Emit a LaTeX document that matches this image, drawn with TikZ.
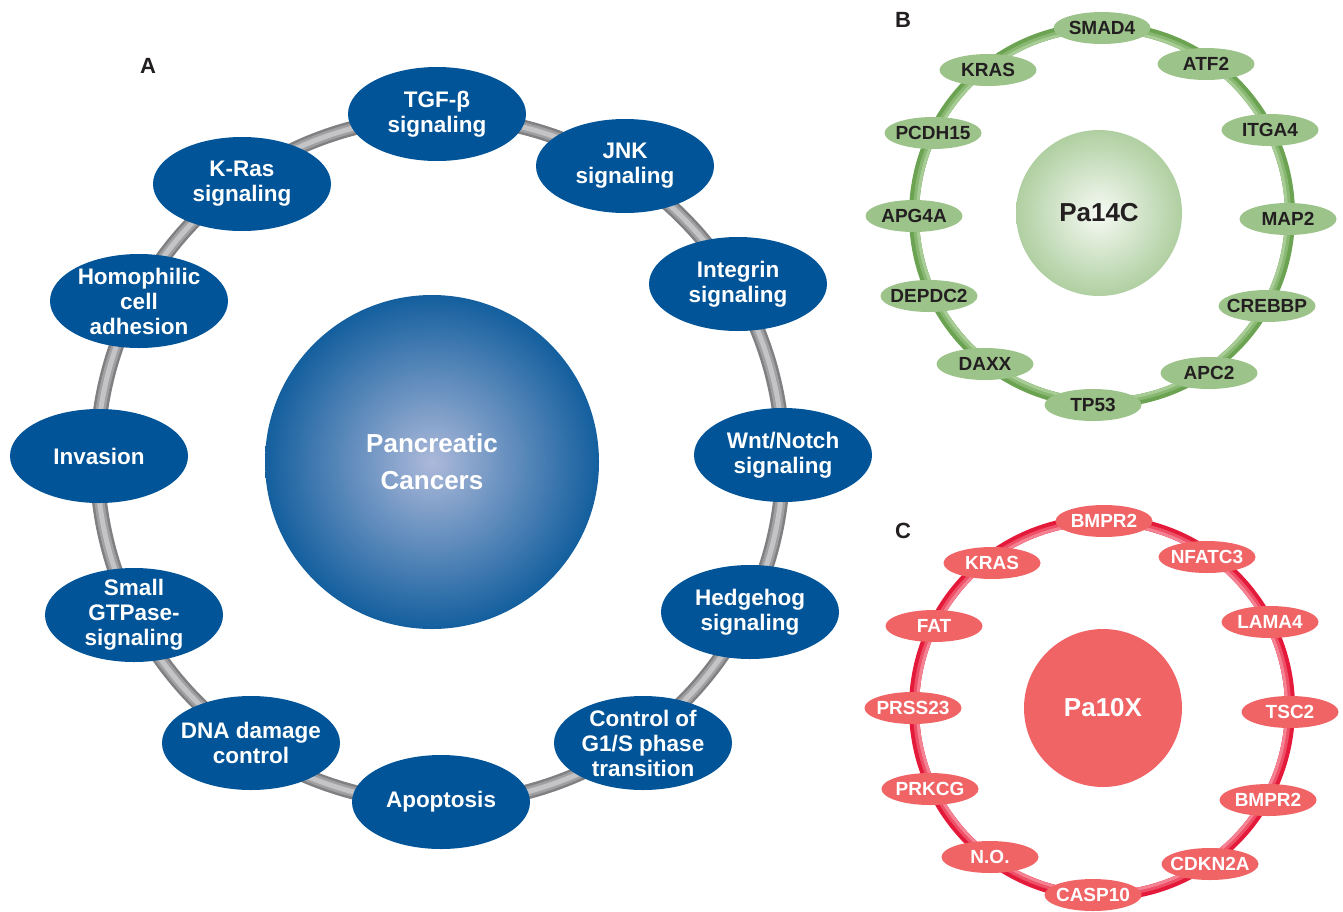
\documentclass[tikz,border=0pt]{standalone}
\usepackage{fontspec}
\setmainfont{Liberation Sans}
\usetikzlibrary{shapes.geometric}

\definecolor{pathblue}{RGB}{1,84,151}
\definecolor{hubcore}{RGB}{172,185,218}
\definecolor{ringdark}{RGB}{128,128,131}
\definecolor{ringmid}{RGB}{160,160,162}
\definecolor{ringlight}{RGB}{196,196,198}
\definecolor{genegreen}{RGB}{156,195,138}
\definecolor{greendark}{RGB}{108,163,82}
\definecolor{greenmid}{RGB}{136,184,114}
\definecolor{greenlight}{RGB}{168,204,150}
\definecolor{greencore}{RGB}{246,250,244}
\definecolor{genered}{RGB}{240,100,102}
\definecolor{reddark}{RGB}{228,26,58}
\definecolor{redmid}{RGB}{238,80,104}
\definecolor{redlight}{RGB}{244,130,146}
\definecolor{labeldark}{RGB}{35,31,32}

\pgfdeclareradialshading{hubblue}{\pgfpointorigin}{color(0bp)=(hubcore); color(28bp)=(pathblue); color(50bp)=(pathblue)}
\pgfdeclareradialshading{hubgreen}{\pgfpointorigin}{color(0bp)=(greencore); color(32bp)=(genegreen); color(50bp)=(genegreen)}

\tikzset{
  pathway/.style={ellipse, fill=pathblue, text=white, minimum width=178pt, minimum height=94pt,
    inner sep=-12pt, align=center, font=\bfseries\fontsize{22.5}{25}\selectfont},
  gene/.style={ellipse, minimum width=97pt, minimum height=32pt, inner sep=-8pt,
    font=\bfseries\fontsize{19}{21}\selectfont},
  geneB/.style={gene, fill=genegreen, text=labeldark},
  geneC/.style={gene, fill=genered, text=white},
  panel/.style={font=\bfseries\fontsize{22}{24}\selectfont, text=labeldark},
}

\begin{document}
\begin{tikzpicture}[x=1pt, y=-1pt]
\useasboundingbox (0,0) rectangle (1343,911);

% panel A
\node[panel] (labA) at (148,66) {A};
\coordinate (ringA) at (440,460);
\draw[line width=15pt, ringdark] (ringA) circle[radius=343pt];
\draw[line width=10pt, ringmid] (ringA) circle[radius=343pt];
\draw[line width=5pt, ringlight] (ringA) circle[radius=343pt];

\node[circle, minimum size=334pt, shading=hubblue, text=white, align=center,
  font=\bfseries\fontsize{26}{37}\selectfont] (hubA) at (432,462) {Pancreatic\\Cancers};

\node[pathway] (tgf) at (437,114) {TGF-β\\signaling};
\node[pathway] (jnk) at (625,166) {JNK\\signaling};
\node[pathway] (integrin) at (738,284) {Integrin\\signaling};
\node[pathway] (wnt) at (783,455) {Wnt/Notch\\signaling};
\node[pathway] (hedgehog) at (750,612) {Hedgehog\\signaling};
\node[pathway] (gcontrol) at (643,743) {Control of\\G1/S phase\\transition};
\node[pathway] (apoptosis) at (441,802) {Apoptosis};
\node[pathway] (dna) at (251,743) {DNA damage\\control};
\node[pathway] (gtpase) at (134,615) {Small\\GTPase-\\signaling};
\node[pathway] (invasion) at (99,456) {Invasion};
\node[pathway] (homophilic) at (139,301) {Homophilic\\cell\\adhesion};
\node[pathway] (kras) at (242,184) {K-Ras\\signaling};

% panel B
\node[panel] (labB) at (903,20) {B};
\coordinate (ringB) at (1102,215);
\draw[line width=10pt, greendark] (ringB) circle[radius=188pt];
\draw[line width=6pt, greenmid] (ringB) circle[radius=186pt];
\draw[line width=3pt, greenlight] (ringB) circle[radius=184.5pt];

\node[circle, minimum size=166pt, shading=hubgreen, text=labeldark,
  font=\bfseries\fontsize{26}{30}\selectfont] (hubB) at (1099,213) {Pa14C};

\node[geneB] (smad4) at (1102,28) {SMAD4};
\node[geneB] (atf2) at (1206,64) {ATF2};
\node[geneB] (itga4) at (1270,130) {ITGA4};
\node[geneB] (map2) at (1288,219) {MAP2};
\node[geneB] (crebbp) at (1267,306) {CREBBP};
\node[geneB] (apc2) at (1209,373) {APC2};
\node[geneB] (tp53) at (1093,405) {TP53};
\node[geneB] (daxx) at (985,364) {DAXX};
\node[geneB] (depdc2) at (929,296) {DEPDC2};
\node[geneB] (apg4a) at (914,216) {APG4A};
\node[geneB] (pcdh15) at (933,133) {PCDH15};
\node[geneB] (krasB) at (988,70) {KRAS};

% panel C
\node[panel] (labC) at (903,531) {C};
\coordinate (ringC) at (1102,708);
\draw[line width=10pt, reddark] (ringC) circle[radius=188pt];
\draw[line width=6pt, redmid] (ringC) circle[radius=186pt];
\draw[line width=3pt, redlight] (ringC) circle[radius=184.5pt];

\node[circle, minimum size=158pt, fill=genered, text=white,
  font=\bfseries\fontsize{26}{30}\selectfont] (hubC) at (1103,708) {Pa10X};

\node[geneC] (bmpr2a) at (1104,521) {BMPR2};
\node[geneC] (nfatc3) at (1207,557) {NFATC3};
\node[geneC] (lama4) at (1270,622) {LAMA4};
\node[geneC] (tsc2) at (1290,712) {TSC2};
\node[geneC] (bmpr2b) at (1268,800) {BMPR2};
\node[geneC] (cdkn2a) at (1210,864) {CDKN2A};
\node[geneC] (casp10) at (1093,895) {CASP10};
\node[geneC] (no) at (990,857) {N.O.};
\node[geneC] (prkcg) at (930,789) {PRKCG};
\node[geneC] (prss23) at (913,708) {PRSS23};
\node[geneC] (fat) at (934,626) {FAT};
\node[geneC] (krasC) at (992,563) {KRAS};
\end{tikzpicture}
\end{document}
